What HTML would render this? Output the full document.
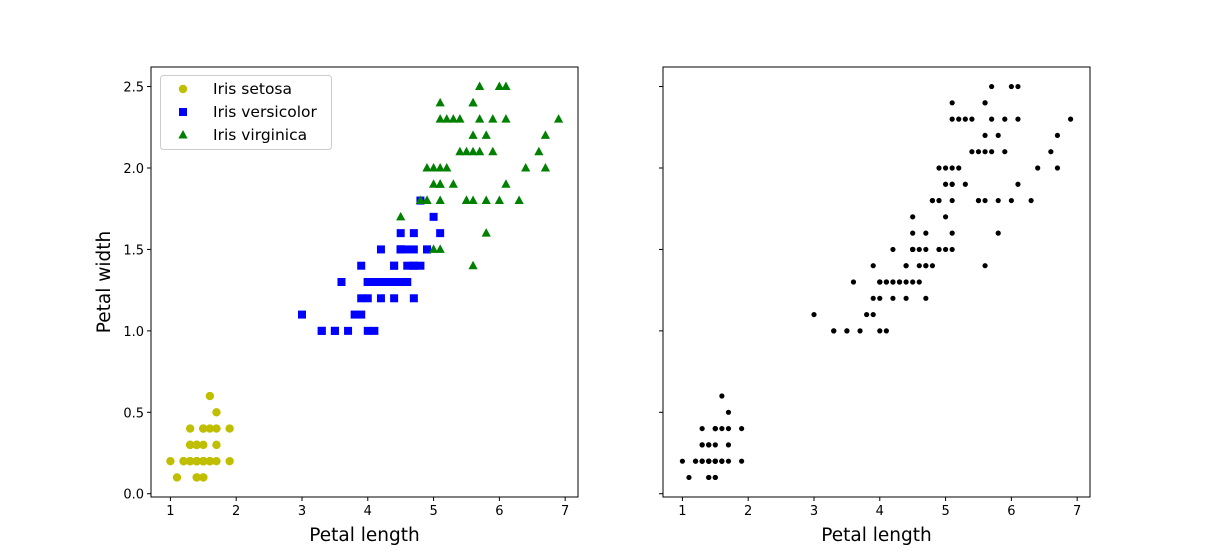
<!DOCTYPE html>
<html><head><meta charset="utf-8"><style>body{margin:0;background:#fff}svg{display:block;font-family:"DejaVu Sans","Liberation Sans",sans-serif}</style></head>
<body>
<svg id="c" width="1211" height="558"></svg>
<script>
const setosa=[[1.4,0.2],[1.4,0.2],[1.3,0.2],[1.5,0.2],[1.4,0.2],[1.7,0.4],[1.4,0.3],[1.5,0.2],[1.4,0.2],[1.5,0.1],[1.5,0.2],[1.6,0.2],[1.4,0.1],[1.1,0.1],[1.2,0.2],[1.5,0.4],[1.3,0.4],[1.4,0.3],[1.7,0.3],[1.5,0.3],[1.7,0.2],[1.5,0.4],[1.0,0.2],[1.7,0.5],[1.9,0.2],[1.6,0.2],[1.6,0.4],[1.5,0.2],[1.4,0.2],[1.6,0.2],[1.6,0.2],[1.5,0.4],[1.5,0.1],[1.4,0.2],[1.5,0.2],[1.2,0.2],[1.3,0.2],[1.4,0.1],[1.3,0.2],[1.5,0.2],[1.3,0.3],[1.3,0.3],[1.3,0.2],[1.6,0.6],[1.9,0.4],[1.4,0.3],[1.6,0.2],[1.4,0.2],[1.5,0.2],[1.4,0.2]];
const versicolor=[[4.7,1.4],[4.5,1.5],[4.9,1.5],[4.0,1.3],[4.6,1.5],[4.5,1.3],[4.7,1.6],[3.3,1.0],[4.6,1.3],[3.9,1.4],[3.5,1.0],[4.2,1.5],[4.0,1.0],[4.7,1.4],[3.6,1.3],[4.4,1.4],[4.5,1.5],[4.1,1.0],[4.5,1.5],[3.9,1.1],[4.8,1.8],[4.0,1.3],[4.9,1.5],[4.7,1.2],[4.3,1.3],[4.4,1.4],[4.8,1.4],[5.0,1.7],[4.5,1.5],[3.5,1.0],[3.8,1.1],[3.7,1.0],[3.9,1.2],[5.1,1.6],[4.5,1.5],[4.5,1.6],[4.7,1.5],[4.4,1.3],[4.1,1.3],[4.0,1.3],[4.4,1.2],[4.6,1.4],[4.0,1.2],[3.3,1.0],[4.2,1.3],[4.2,1.2],[4.2,1.3],[4.3,1.3],[3.0,1.1],[4.1,1.3]];
const virginica=[[6.0,2.5],[5.1,1.9],[5.9,2.1],[5.6,1.8],[5.8,2.2],[6.6,2.1],[4.5,1.7],[6.3,1.8],[5.8,1.8],[6.1,2.5],[5.1,2.0],[5.3,1.9],[5.5,2.1],[5.0,2.0],[5.1,2.4],[5.3,2.3],[5.5,1.8],[6.7,2.2],[6.9,2.3],[5.0,1.5],[5.7,2.3],[4.9,2.0],[6.7,2.0],[4.9,1.8],[5.7,2.1],[6.0,1.8],[4.8,1.8],[4.9,1.8],[5.6,2.1],[5.8,1.6],[6.1,1.9],[6.4,2.0],[5.6,2.2],[5.1,1.5],[5.6,1.4],[6.1,2.3],[5.6,2.4],[5.5,1.8],[4.8,1.8],[5.4,2.1],[5.6,2.4],[5.1,2.3],[5.1,1.9],[5.9,2.3],[5.7,2.5],[5.2,2.3],[5.0,1.9],[5.2,2.0],[5.4,2.3],[5.1,1.8]];
const xTicks=[1,2,3,4,5,6,7];
const yTicks=[0.0,0.5,1.0,1.5,2.0,2.5];
const yLabels=["0.0","0.5","1.0","1.5","2.0","2.5"];
const NS="http://www.w3.org/2000/svg",svg=document.getElementById('c');
function mk(t,a,p){const e=document.createElementNS(NS,t);for(const k in a)e.setAttribute(k,a[k]);(p||svg).appendChild(e);return e;}
const X0=0.705,X1=7.195,Y0=-0.02,Y1=2.62,T=67,B=497;
function panel(L,R,name,labels,draw){
  const g=mk('g',{});
  
  
  const sx=v=>L+(v-X0)/(X1-X0)*(R-L), sy=v=>B-(v-Y0)/(Y1-Y0)*(B-T);
  draw(g,sx,sy);
  mk('rect',{x:L,y:T,width:R-L,height:B-T,fill:'none',stroke:'#000','stroke-width':1},g);
  xTicks.forEach(v=>{const x=sx(v);mk('line',{x1:x,x2:x,y1:B,y2:B+4,stroke:'#000'},g);
    const t=mk('text',{x:x,y:B+18,'text-anchor':'middle','font-size':13},g);t.textContent=v;
    });
  yTicks.forEach((v,i)=>{const y=sy(v);mk('line',{x1:L-4,x2:L,y1:y,y2:y,stroke:'#000'},g);
    if(labels){const t=mk('text',{x:L-7,y:y+5,'text-anchor':'end','font-size':13},g);t.textContent=yLabels[i];
    }});
  const xl=mk('text',{x:(L+R)/2,y:541,'text-anchor':'middle','font-size':18.5},g);xl.textContent='Petal length';
  
  return {sx,sy,g};
}
function circ(g,x,y,c){mk('circle',{cx:x,cy:y,r:4.2,fill:c},g);}
function sq(g,x,y,c){mk('rect',{x:x-4,y:y-4,width:8,height:8,fill:c},g);}
function tri(g,x,y,c){mk('polygon',{points:`${x},${y-5} ${x+4.6},${y+3.5} ${x-4.6},${y+3.5}`,fill:c},g);}
panel(151,578,'left-panel',true,(g,sx,sy)=>{
  setosa.forEach(d=>circ(g,sx(d[0]),sy(d[1]),'#bfbf00'));
  versicolor.forEach(d=>sq(g,sx(d[0]),sy(d[1]),'#0000ff'));
  virginica.forEach(d=>tri(g,sx(d[0]),sy(d[1]),'#008000'));
});
panel(663,1090,'right-panel',false,(g,sx,sy)=>{
  setosa.concat(versicolor,virginica).forEach(d=>mk('circle',{cx:sx(d[0]),cy:sy(d[1]),r:2.6,fill:'#000'},g));
});
const yl=mk('text',{x:110,y:282,'text-anchor':'middle','font-size':18.5,transform:'rotate(-90 110 282)'});yl.textContent='Petal width';

const lg=mk('g',{});

mk('rect',{x:160.5,y:75.5,width:171,height:74,rx:3,fill:'#fff',stroke:'#ccc'},lg);
const names=['Iris setosa','Iris versicolor','Iris virginica'];
[[circ,'#bfbf00'],[sq,'#0000ff'],[tri,'#008000']].forEach((m,i)=>{const y=89+i*23;m[0](lg,183,y,m[1]);
  const t=mk('text',{x:213,y:y+5,'font-size':15.5},lg);t.textContent=names[i];
  });
</script>
</body></html>
